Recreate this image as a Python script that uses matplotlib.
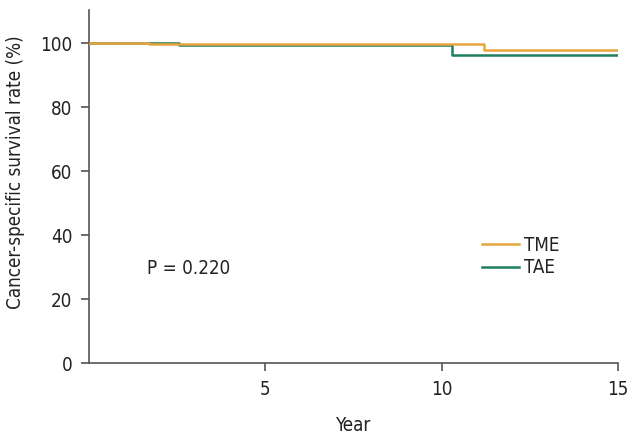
import matplotlib
matplotlib.use("Agg")
import matplotlib.pyplot as plt

plt.rcParams['font.family'] = ["DejaVu Sans"]
plt.rcParams['font.stretch'] = "condensed"

# Data (Kaplan-Meier step curves)
tme_time = [0, 1.7, 11.2, 15]
tme_surv = [100, 99.6, 97.9, 97.9]
tae_time = [0, 2.56, 10.28, 15]
tae_surv = [100, 99.3, 96.3, 96.3]
xticks = [5, 10, 15]
yticks = [0, 20, 40, 60, 80, 100]

c_tme = "#E8A53C"
c_tae = "#1E7F5E"

fig = plt.figure(figsize=(6.36, 4.44), dpi=100)
ax = fig.add_axes([0.140, 0.182, 0.832, 0.795])

l_tae, = ax.step(tae_time, tae_surv, where="post", color=c_tae, lw=1.8, label="TAE", zorder=2)
l_tme, = ax.step(tme_time, tme_surv, where="post", color=c_tme, lw=1.8, label="TME", zorder=3)

ax.set_xlim(0, 15)
ax.set_ylim(0, 110.3)
ax.set_xticks(xticks)
ax.set_yticks(yticks)
for s in ["top", "right"]:
    ax.spines[s].set_visible(False)
for s in ["left", "bottom"]:
    ax.spines[s].set_color("#555555")
    ax.spines[s].set_linewidth(1.2)
ax.tick_params(colors="#555555", labelcolor="#222222", labelsize=13.5, length=6, width=1.2, pad=6)

ax.set_xlabel("Year", fontsize=13.5, color="#222222", labelpad=12)
ax.set_ylabel("Cancer-specific survival rate (%)", fontsize=13.5, color="#222222")
ax.yaxis.set_label_coords(-0.121, 0.541)

ax.text(1.65, 29.7, "P = 0.220", fontsize=13.5, color="#222222", va="center", ha="left")

leg = ax.legend(handles=[l_tme, l_tae], loc="center left", bbox_to_anchor=(0.743, 0.302), frameon=False,
                fontsize=13.5, handlelength=1.95, handletextpad=0.3, labelspacing=0.2,
                borderaxespad=0, borderpad=0)
for t in leg.get_texts():
    t.set_color("#222222")

fig.savefig("out.png", dpi=100)
